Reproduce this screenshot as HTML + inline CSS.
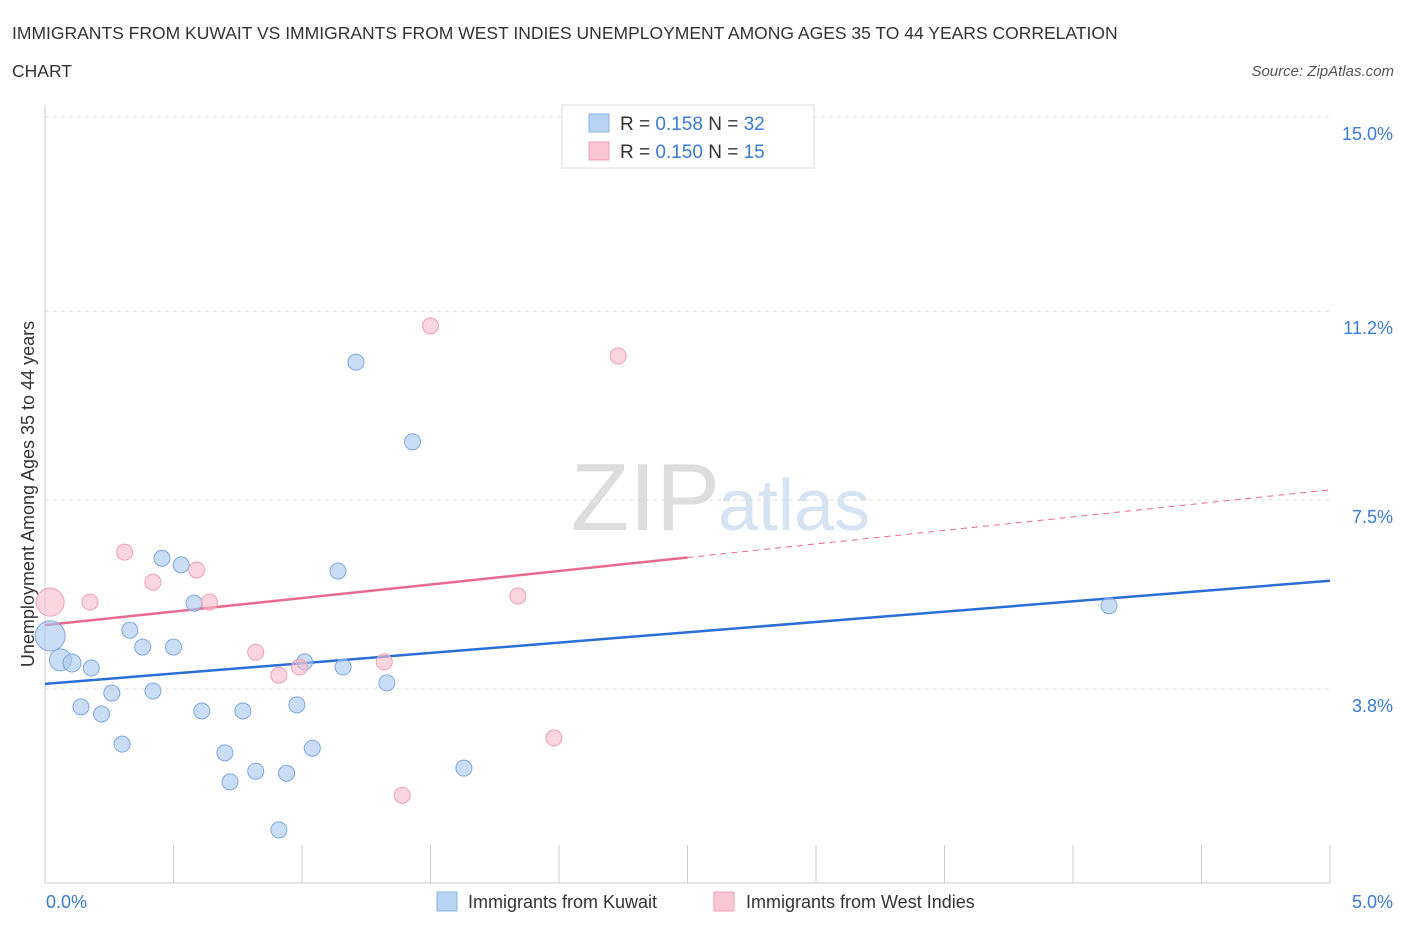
<!DOCTYPE html>
<html><head><meta charset="utf-8"><style>
body{margin:0;background:#fff;font-family:"Liberation Sans",sans-serif;}
svg text{font-family:"Liberation Sans",sans-serif;}
</style></head><body>
<svg width="1406" height="930" xmlns="http://www.w3.org/2000/svg">
<text x="12" y="39" font-size="17.5" fill="#333">IMMIGRANTS FROM KUWAIT VS IMMIGRANTS FROM WEST INDIES UNEMPLOYMENT AMONG AGES 35 TO 44 YEARS CORRELATION</text>
<text x="12" y="77" font-size="17.5" fill="#333">CHART</text>
<text x="1394" y="76" font-size="15" fill="#555" font-style="italic" text-anchor="end">Source: ZipAtlas.com</text>
<text x="720" y="530" font-size="96" fill="#ddd" font-family="Liberation Serif" text-anchor="end">ZIP</text>
<text x="718" y="530" font-size="72" fill="#d6e3f3">atlas</text>
<g id="grid"></g>
<g id="axes"></g>
<g id="lines"></g>
<g id="pts"></g>
<text transform="translate(34,494) rotate(-90)" font-size="18" fill="#333" text-anchor="middle">Unemployment Among Ages 35 to 44 years</text>
<text x="46" y="908" font-size="18" fill="#3a7bd5">0.0%</text>
<text x="1393" y="908" font-size="18" fill="#3a7bd5" text-anchor="end">5.0%</text>
<g>
<rect x="562" y="105" width="252" height="63" fill="#fff" stroke="#ddd"/>
<rect x="589" y="114" width="20" height="18" fill="#b9d3f5" stroke="#8ab2e8"/>
<rect x="589" y="142" width="20" height="18" fill="#f9c6d3" stroke="#f0a0b6"/>
<text x="620" y="130" font-size="19" fill="#333">R = <tspan fill="#3a7bd5">0.158</tspan>   N = <tspan fill="#3a7bd5">32</tspan></text>
<text x="620" y="158" font-size="19" fill="#333">R = <tspan fill="#3a7bd5">0.150</tspan>   N = <tspan fill="#3a7bd5">15</tspan></text>
</g>
<g>
<rect x="437" y="892" width="20" height="19" fill="#b9d3f5" stroke="#8ab2e8"/>
<text x="468" y="908" font-size="18" fill="#333">Immigrants from Kuwait</text>
<rect x="714" y="892" width="20" height="19" fill="#f9c6d3" stroke="#f0a0b6"/>
<text x="746" y="908" font-size="18" fill="#333">Immigrants from West Indies</text>
</g>
</svg>
<script>
const blueX=[0.02,0.06,0.105,0.18,0.14,0.22,0.26,0.30,0.33,0.38,0.42,0.455,0.50,0.53,0.58,0.61,0.70,0.72,0.77,0.82,0.91,0.94,0.98,1.01,1.04,1.14,1.16,1.21,1.33,1.43,1.63,4.14];
const blueY=[4.84,4.37,4.31,4.21,3.45,3.31,3.72,2.72,4.95,4.62,3.76,6.36,4.62,6.23,5.48,3.37,2.55,1.98,3.37,2.19,1.04,2.15,3.49,4.33,2.64,6.11,4.23,10.20,3.92,8.64,2.25,5.43];
const blueR=[15,11,9,8,8,8,8,8,8,8,8,8,8,8,8,8,8,8,8,8,8,8,8,8,8,8,8,8,8,8,8,8];
const pinkX=[0.02,0.175,0.31,0.42,0.59,0.64,0.82,0.91,0.99,1.32,1.39,1.50,1.84,1.98,2.23];
const pinkY=[5.50,5.50,6.48,5.89,6.13,5.50,4.52,4.07,4.23,4.33,1.72,10.91,5.62,2.84,10.32];
const pinkR=[14,8,8,8,8,8,8,8,8,8,8,8,8,8,8];
const yTicks=[15.0,11.2,7.5,3.8];
const yTickLabels=["15.0%","11.2%","7.5%","3.8%"];
const blueTrend=[3.90,5.92];
const pinkTrend=[5.05,7.70];
const pinkSolidEnd=2.5;
const NS="http://www.w3.org/2000/svg";
const X=v=>45+v*257, Y=v=>117+(15-v)*51.07;
function mk(t,a,p){const e=document.createElementNS(NS,t);for(const k in a)e.setAttribute(k,a[k]);document.getElementById(p).appendChild(e);return e;}
yTicks.forEach((v,i)=>{
 const l=mk('line',{x1:45,x2:1330,y1:Y(v),y2:Y(v),stroke:'#ddd','stroke-dasharray':'4,4'},'grid');
 
 
 const t=mk('text',{x:1393,y:Y(v)+23,'font-size':18,fill:'#3a7bd5','text-anchor':'end'},'grid');
 t.textContent=yTickLabels[i];
 
 
});
const ax=mk('line',{x1:45,x2:1330,y1:883,y2:883,stroke:'#ccc'},'axes');


const ay=mk('line',{x1:45,x2:45,y1:105,y2:883,stroke:'#ccc'},'axes');


for(let i=0;i<=10;i++){
 const t=mk('line',{x1:X(i*0.5),x2:X(i*0.5),y1:845,y2:883,stroke:'#ccc'},'axes');
 
 
}
const bl=mk('line',{x1:X(0),y1:Y(blueTrend[0]),x2:X(5),y2:Y(blueTrend[1]),stroke:'#2a6fd6','stroke-width':2.5},'lines');


const pm=pinkTrend[0]+(pinkTrend[1]-pinkTrend[0])*pinkSolidEnd/5;
const pl=mk('line',{x1:X(0),y1:Y(pinkTrend[0]),x2:X(pinkSolidEnd),y2:Y(pm),stroke:'#e8698f','stroke-width':2.5},'lines');


const pd=mk('line',{x1:X(pinkSolidEnd),y1:Y(pm),x2:X(5),y2:Y(pinkTrend[1]),stroke:'#e8698f','stroke-width':1,'stroke-dasharray':'6,5'},'lines');


blueX.forEach((x,i)=>{
 const c=mk('circle',{cx:X(x),cy:Y(blueY[i]),r:blueR[i],fill:'rgba(165,198,240,0.6)',stroke:'#7fa8e0','stroke-width':1},'pts');
 
 
});
pinkX.forEach((x,i)=>{
 const c=mk('circle',{cx:X(x),cy:Y(pinkY[i]),r:pinkR[i],fill:'rgba(248,185,202,0.6)',stroke:'#eea0b5','stroke-width':1},'pts');
 
 
});
</script>
</body></html>
